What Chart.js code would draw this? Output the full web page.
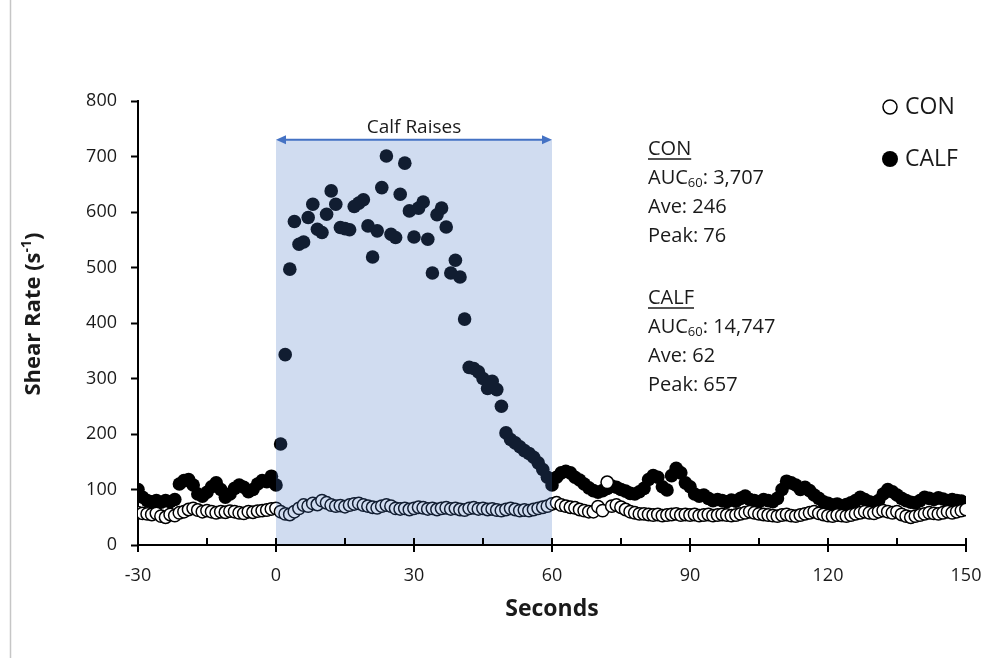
<!DOCTYPE html>
<html>
<head>
<meta charset="utf-8">
<script src="https://cdn.jsdelivr.net/npm/chart.js@4.4.1/dist/chart.umd.min.js"></script>
<style>
  html, body { margin: 0; padding: 0; background: #fff; }
  #wrap { width: 987px; height: 658px; }
</style>
</head>
<body>
<div id="wrap"><canvas id="c" width="987" height="658"></canvas></div>
<script>
// ---- data ----
const seconds = [
  -30,-29,-28,-27,-26,-25,-24,-23,-22,-21,
  -20,-19,-18,-17,-16,-15,-14,-13,-12,-11,
  -10,-9,-8,-7,-6,-5,-4,-3,-2,-1,
  0,1,2,3,4,5,6,7,8,9,
  10,11,12,13,14,15,16,17,18,19,
  20,21,22,23,24,25,26,27,28,29,
  30,31,32,33,34,35,36,37,38,39,
  40,41,42,43,44,45,46,47,48,49,
  50,51,52,53,54,55,56,57,58,59,
  60,61,62,63,64,65,66,67,68,69,
  70,71,72,73,74,75,76,77,78,79,
  80,81,82,83,84,85,86,87,88,89,
  90,91,92,93,94,95,96,97,98,99,
  100,101,102,103,104,105,106,107,108,109,
  110,111,112,113,114,115,116,117,118,119,
  120,121,122,123,124,125,126,127,128,129,
  130,131,132,133,134,135,136,137,138,139,
  140,141,142,143,144,145,146,147,148,149,
  150
];

const conValues = [
  58,57,56,55,57,52,50,55,53,58,
  60,64,66,63,60,62,60,58,60,59,
  61,60,58,57,60,59,61,62,63,65,
  66,60,56,55,60,66,72,70,75,73,
  80,76,72,70,71,69,72,74,75,72,
  70,68,67,70,72,70,66,65,66,64,
  66,68,67,65,66,64,66,67,65,66,
  64,63,66,67,65,66,64,65,63,62,
  64,66,64,62,63,62,64,66,68,70,
  74,76,72,70,68,67,64,62,60,60,
  69,62,113,70,72,68,64,60,58,56,
  56,55,54,55,53,54,55,56,54,55,
  54,55,53,54,55,53,54,55,54,53,
  54,56,58,60,58,56,55,54,53,52,
  54,55,53,52,54,56,58,60,57,55,
  53,52,54,53,52,54,56,58,60,58,
  57,60,62,60,58,60,55,52,50,52,
  54,56,58,57,56,58,60,58,60,62,
  64
];

const calfValues = [
  100,86,80,78,80,77,80,78,82,110,
  116,118,108,92,88,95,105,112,100,86,
  92,102,108,104,96,100,110,116,114,124,
  108,182,343,497,583,542,546,590,614,569,
  563,596,638,614,572,570,568,610,616,622,
  575,519,566,644,701,560,554,632,688,602,
  555,607,618,551,490,595,607,573,490,513,
  483,407,320,318,312,300,282,295,280,250,
  202,190,184,177,170,165,158,148,136,122,
  108,122,130,133,130,122,117,110,103,98,
  95,98,102,106,104,100,97,93,92,96,
  102,118,125,122,105,99,125,138,130,112,
  105,92,88,90,84,80,82,80,78,81,
  79,84,88,82,80,78,82,80,78,84,
  100,115,112,108,100,104,98,90,84,78,
  75,72,74,70,73,76,80,86,82,78,
  76,80,92,100,96,90,84,80,77,76,
  80,86,84,82,85,83,80,82,80,79,
  76
];

const seriesNames = ['CON', 'CALF'];
const xTickValues = [-30, -15, 0, 15, 30, 45, 60, 75, 90, 105, 120, 135, 150];
const xLabelValues = [-30, 0, 30, 60, 90, 120, 150];
const yTickValues = [0, 100, 200, 300, 400, 500, 600, 700, 800];
const raiseWindow = [0, 60];       // seconds of calf raises
const raiseTop = 730;              // height of shaded band (s^-1)
const raiseLabel = 'Calf Raises';
const xTitle = 'Seconds';
const yTitleMain = 'Shear Rate (s';
const yTitleSup = '-1';
const yTitleEnd = ')';
const statsCON = ['CON', ['AUC', '60', ': 3,707'], 'Ave: 246', 'Peak: 76'];
const statsCALF = ['CALF', ['AUC', '60', ': 14,747'], 'Ave: 62', 'Peak: 657'];

// ---- build datasets ----
const toPoints = vals => seconds.map((s, i) => ({ x: s, y: vals[i] }));

const FONT = '"Open Sans", Lato, "Liberation Sans", sans-serif';
const TXT = '#1a1a1a';

const decor = {
  id: 'decor',
  beforeDraw(chart) {
    const ctx = chart.ctx;
    ctx.save();
    ctx.fillStyle = '#ffffff';
    ctx.fillRect(0, 0, chart.width, chart.height);
    ctx.strokeStyle = '#c6c6c6';
    ctx.lineWidth = 1.5;
    ctx.beginPath();
    ctx.moveTo(10.5, 0);
    ctx.lineTo(10.5, chart.height);
    ctx.stroke();
    ctx.restore();
  },
  afterDatasetsDraw(chart) {
    const { ctx, scales: { x, y } } = chart;
    const x0 = x.getPixelForValue(raiseWindow[0]);
    const x1 = x.getPixelForValue(raiseWindow[1]);
    const yTop = y.getPixelForValue(raiseTop);
    const yBot = y.getPixelForValue(0);
    ctx.save();
    // shaded calf-raise band (semi transparent, over points)
    ctx.fillStyle = 'rgba(68,114,196,0.25)';
    ctx.fillRect(x0, yTop, x1 - x0, yBot - 1 - yTop);

    // double-headed arrow
    ctx.strokeStyle = '#4472C4';
    ctx.fillStyle = '#4472C4';
    ctx.lineWidth = 2;
    ctx.beginPath();
    ctx.moveTo(x0 + 6, yTop);
    ctx.lineTo(x1 - 6, yTop);
    ctx.stroke();
    ctx.beginPath();
    ctx.moveTo(x0, yTop); ctx.lineTo(x0 + 10, yTop - 4.5); ctx.lineTo(x0 + 10, yTop + 4.5); ctx.closePath(); ctx.fill();
    ctx.beginPath();
    ctx.moveTo(x1, yTop); ctx.lineTo(x1 - 10, yTop - 4.5); ctx.lineTo(x1 - 10, yTop + 4.5); ctx.closePath(); ctx.fill();

    // label
    ctx.fillStyle = TXT;
    ctx.font = '19px ' + FONT;
    ctx.textAlign = 'center';
    ctx.textBaseline = 'middle';
    ctx.fillText(raiseLabel, (x0 + x1) / 2, yTop - 12);

    // x tick marks (major cross the axis, minor inside)
    ctx.strokeStyle = '#000';
    ctx.lineWidth = 2;
    xTickValues.forEach(v => {
      const px = Math.round(x.getPixelForValue(v));
      const major = xLabelValues.includes(v);
      ctx.beginPath();
      ctx.moveTo(px, yBot - 7);
      ctx.lineTo(px, major ? yBot + 7 : yBot);
      ctx.stroke();
    });

    // y title with superscript
    ctx.save();
    ctx.translate(34, 314);
    ctx.rotate(-Math.PI / 2);
    ctx.fillStyle = TXT;
    ctx.textAlign = 'left';
    ctx.textBaseline = 'middle';
    const fMain = 'bold 22px ' + FONT, fSup = 'bold 14px ' + FONT;
    ctx.font = fMain; const w1 = ctx.measureText(yTitleMain).width;
    const w3 = ctx.measureText(yTitleEnd).width;
    ctx.font = fSup; const w2 = ctx.measureText(yTitleSup).width;
    let cx = -(w1 + w2 + w3) / 2;
    ctx.font = fMain; ctx.fillText(yTitleMain, cx, 0); cx += w1;
    ctx.font = fSup; ctx.fillText(yTitleSup, cx, -7); cx += w2;
    ctx.font = fMain; ctx.fillText(yTitleEnd, cx, 0);
    ctx.restore();

    // stats annotations
    const drawStats = (lines, startY) => {
      const lx = 648;
      const step = 29;
      lines.forEach((ln, i) => {
        const cy = startY + i * step;
        ctx.fillStyle = TXT;
        ctx.textAlign = 'left';
        ctx.textBaseline = 'middle';
        ctx.font = '20px ' + FONT;
        if (Array.isArray(ln)) {
          let cxx = lx;
          ctx.fillText(ln[0], cxx, cy); cxx += ctx.measureText(ln[0]).width;
          ctx.font = '13px ' + FONT;
          ctx.fillText(ln[1], cxx, cy + 5); cxx += ctx.measureText(ln[1]).width;
          ctx.font = '20px ' + FONT;
          ctx.fillText(ln[2], cxx, cy);
        } else {
          ctx.fillText(ln, lx, cy);
          if (i === 0) {
            const w = ctx.measureText(ln).width;
            ctx.strokeStyle = TXT;
            ctx.lineWidth = 1.3;
            ctx.beginPath();
            ctx.moveTo(lx, cy + 10);
            ctx.lineTo(lx + w, cy + 10);
            ctx.stroke();
          }
        }
      });
    };
    drawStats(statsCON, 149);
    drawStats(statsCALF, 298);

    // legend
    const legX = 890;
    ctx.lineWidth = 1.5;
    ctx.strokeStyle = '#000';
    ctx.fillStyle = '#fff';
    ctx.beginPath(); ctx.arc(legX, 107, 7, 0, Math.PI * 2); ctx.fill(); ctx.stroke();
    ctx.fillStyle = '#000';
    ctx.beginPath(); ctx.arc(legX, 159, 8, 0, Math.PI * 2); ctx.fill();
    ctx.fillStyle = TXT;
    ctx.font = '23px ' + FONT;
    ctx.textAlign = 'left';
    ctx.textBaseline = 'middle';
    ctx.fillText(seriesNames[0], 905, 107);
    ctx.fillText(seriesNames[1], 905, 159);
    ctx.restore();
  }
};

new Chart(document.getElementById('c'), {
  type: 'scatter',
  data: {
    datasets: [
      {
        label: seriesNames[0],
        data: toPoints(conValues),
        pointRadius: 6.2,
        pointHoverRadius: 6.2,
        pointBackgroundColor: '#ffffff',
        pointBorderColor: '#000000',
        pointBorderWidth: 1.5
      },
      {
        label: seriesNames[1],
        data: toPoints(calfValues),
        pointRadius: 6.8,
        pointHoverRadius: 6.8,
        pointBackgroundColor: '#000000',
        pointBorderColor: '#000000',
        pointBorderWidth: 0
      }
    ]
  },
  options: {
    responsive: false,
    animation: false,
    devicePixelRatio: 1,
    layout: { padding: { top: 101, right: 21, left: 0, bottom: 0 } },
    plugins: { legend: { display: false }, tooltip: { enabled: false } },
    scales: {
      x: {
        type: 'linear',
        min: -30, max: 150,
        afterFit: s => { s.height = 113; s.paddingLeft = 0; s.paddingRight = 0; },
        afterBuildTicks: s => { s.ticks = xLabelValues.map(v => ({ value: v })); },
        ticks: { font: { family: FONT, size: 18 }, color: TXT, padding: 13, maxRotation: 0 },
        grid: { drawOnChartArea: false, drawTicks: true, tickLength: 7, tickColor: 'rgba(0,0,0,0)' },
        border: { display: true, color: '#000', width: 2 },
        title: { display: true, text: xTitle, font: { family: FONT, size: 23, weight: 'bold' }, color: TXT, padding: { top: 0, bottom: 35 } }
      },
      y: {
        min: 0, max: 800,
        afterFit: s => { s.width = 138; s.paddingTop = 0; s.paddingBottom = 0; },
        afterBuildTicks: s => { s.ticks = yTickValues.map(v => ({ value: v })); },
        ticks: { font: { family: FONT, size: 18 }, color: TXT, padding: 14 },
        grid: { drawOnChartArea: false, drawTicks: true, tickLength: 7, tickColor: '#000', tickWidth: 2 },
        border: { display: true, color: '#000', width: 2 }
      }
    }
  },
  plugins: [decor]
});
</script>
</body>
</html>
